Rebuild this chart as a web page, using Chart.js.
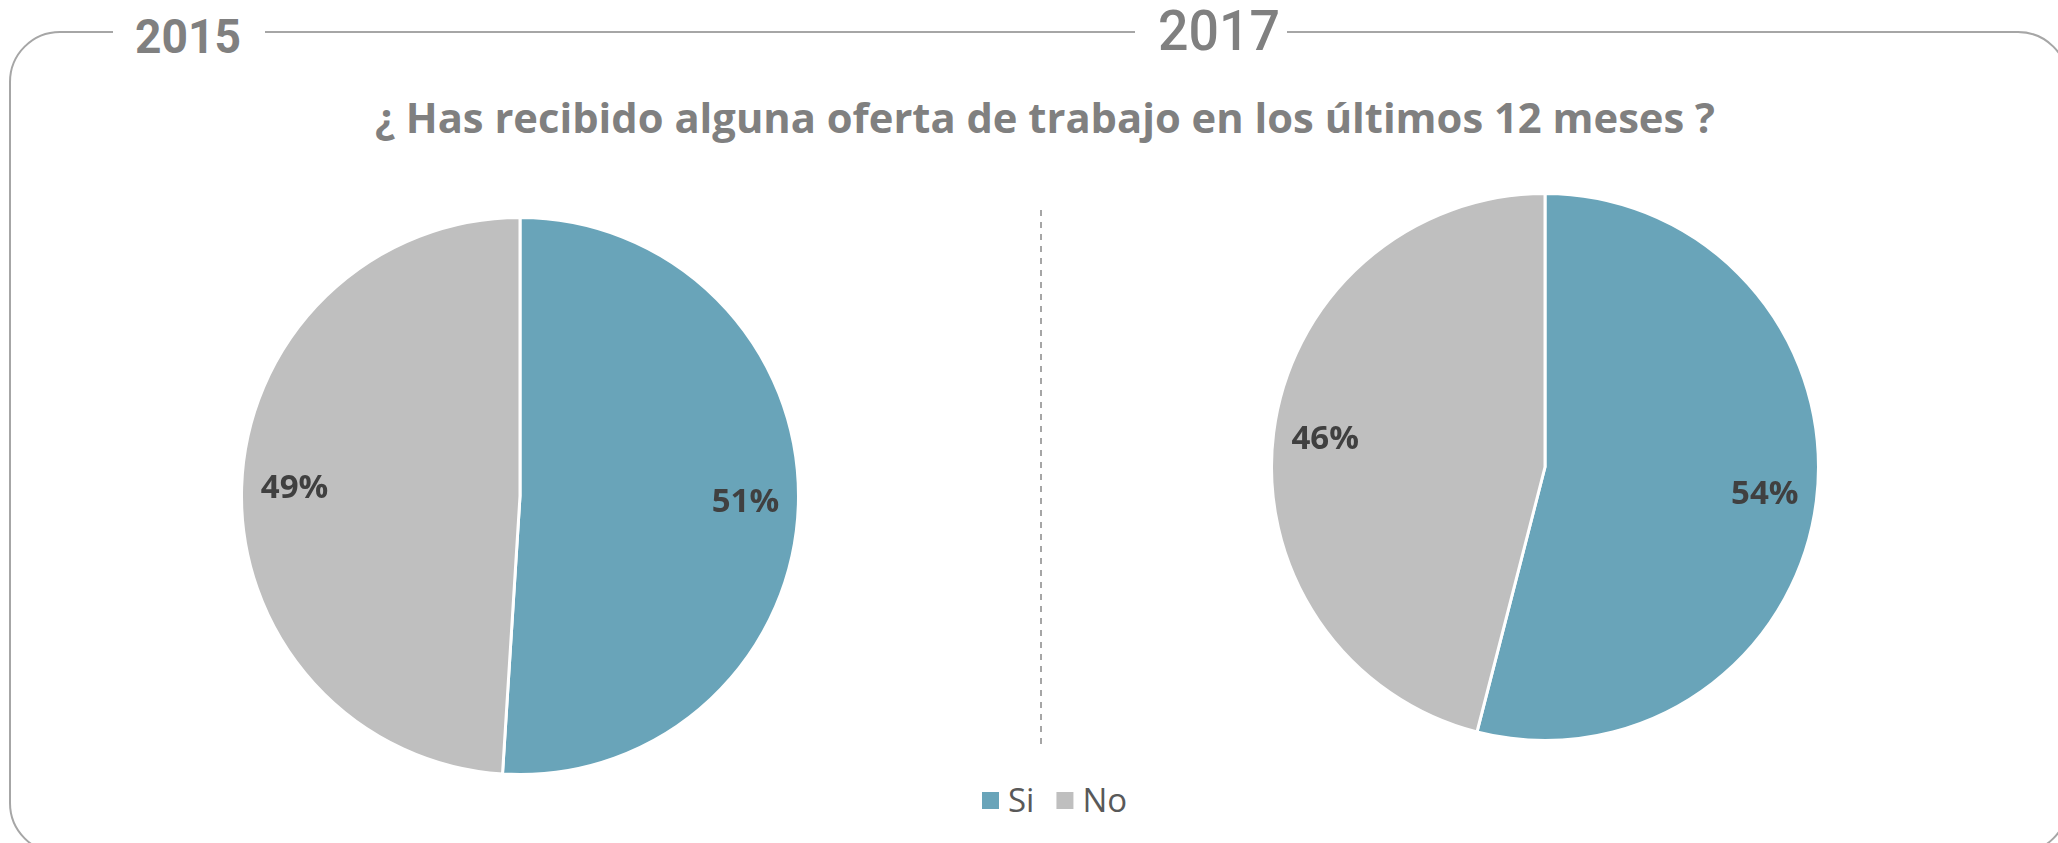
<!DOCTYPE html>
<html>
<head>
<meta charset="utf-8">
<script src="https://cdn.jsdelivr.net/npm/chart.js@4"></script>
<style>
  html, body { margin: 0; padding: 0; background: #fff; }
  #page { position: relative; width: 2058px; height: 843px; overflow: hidden; }
  svg { position: absolute; left: 0; top: 0; }
  .pie { position: absolute; }
</style>
</head>
<body>
<div id="page">
  <svg id="deco" width="2058" height="843"></svg>
  <div class="pie" style="left:240px; top:216px; width:560px; height:560px;"><canvas id="pie2015" width="560" height="560"></canvas></div>
  <div class="pie" style="left:1270px; top:192px; width:550px; height:550px;"><canvas id="pie2017" width="550" height="550"></canvas></div>
</div>
<script>
// data
var categories = ["Si", "No"];
var values2015 = [51, 49];
var values2017 = [54, 46];
var years = ["2015", "2017"];
var title = "¿ Has recibido alguna oferta de trabajo en los últimos 12 meses ?";
var colors = ["#69a4b9", "#bfbfbf"];

// frame, titles, divider and legend drawn in svg
var svg = document.getElementById("deco");
var NS = "http://www.w3.org/2000/svg";
function el(name, attrs, text) {
  var e = document.createElementNS(NS, name);
  for (var k in attrs) e.setAttribute(k, attrs[k]);
  if (text) e.textContent = text;
  svg.appendChild(e);
  return e;
}

el("rect", { x: 10, y: 32, width: 2058, height: 821, rx: 50, ry: 50, fill: "none", stroke: "#a6a6a6", "stroke-width": 2 });
// gaps in the frame line for the year labels
el("rect", { x: 113, y: 24, width: 152, height: 16, fill: "#fff" });
el("rect", { x: 1135, y: 24, width: 152, height: 16, fill: "#fff" });
el("text", { x: 135, y: 53, "font-family": "Roboto", "font-weight": "bold", "font-size": 49, fill: "#808080",
  textLength: 106, lengthAdjust: "spacingAndGlyphs" }, years[0]);
el("text", { x: 1158, y: 50, "font-family": "Roboto", "font-weight": 500, "font-size": 56, fill: "#808080",
  textLength: 122, lengthAdjust: "spacingAndGlyphs" }, years[1]);

el("text", { x: 375, y: 133, "font-family": "Open Sans", "font-weight": "bold", "font-size": 42, fill: "#808080",
  textLength: 1340, lengthAdjust: "spacingAndGlyphs" }, title);

el("line", { x1: 1041, y1: 210, x2: 1041, y2: 744, stroke: "#a6a6a6", "stroke-width": 2, "stroke-dasharray": "6 6" });

// legend
var lx = 982;
categories.forEach(function (c, i) {
  el("rect", { x: lx, y: 792, width: 17, height: 17, fill: colors[i] });
  var t = el("text", { x: lx + 26, y: 812, "font-family": "Open Sans", "font-size": 33, fill: "#595959" }, c);
  lx += 26 + t.getComputedTextLength() + 22;
});

// percentage labels inside slices
var sliceLabels = {
  id: "sliceLabels",
  afterDatasetsDraw: function (chart) {
    var ctx = chart.ctx;
    var ds = chart.data.datasets[0];
    var total = ds.data.reduce(function (a, b) { return a + b; }, 0);
    chart.getDatasetMeta(0).data.forEach(function (arc, i) {
      var p = arc.getProps(["x", "y", "startAngle", "endAngle", "outerRadius"], true);
      var mid = (p.startAngle + p.endAngle) / 2;
      var r = p.outerRadius * 0.81;
      ctx.save();
      ctx.font = "bold 33px 'Open Sans'";
      ctx.fillStyle = "#404040";
      ctx.textAlign = "center";
      ctx.textBaseline = "middle";
      ctx.fillText(Math.round(ds.data[i] / total * 100) + "%", p.x + Math.cos(mid) * r, p.y + Math.sin(mid) * r);
      ctx.restore();
    });
  }
};

function makePie(id, values) {
  return new Chart(document.getElementById(id).getContext("2d"), {
    type: "pie",
    data: {
      labels: categories,
      datasets: [{ data: values, backgroundColor: colors, borderColor: "#fff", borderWidth: 3 }]
    },
    options: {
      responsive: false,
      animation: false,
      layout: { padding: 0 },
      plugins: { legend: { display: false }, tooltip: { enabled: false } }
    },
    plugins: [sliceLabels]
  });
}

makePie("pie2015", values2015);
makePie("pie2017", values2017);
</script>
</body>
</html>
